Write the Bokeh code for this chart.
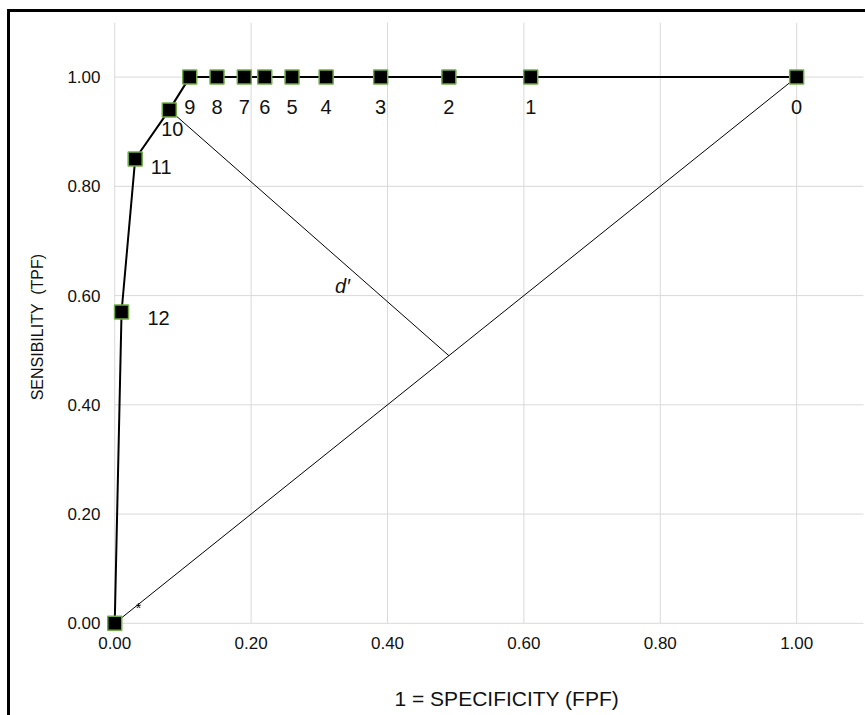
from bokeh.plotting import figure
from bokeh.layouts import column
from bokeh.models import ColumnDataSource, FixedTicker, PrintfTickFormatter, Label, Title
from bokeh.core.properties import value
from bokeh.embed import file_html
from bokeh.resources import INLINE

# ---- data ----
point_labels = ["", "12", "11", "10", "9", "8", "7", "6", "5", "4", "3", "2", "1", "0"]
fpf = [0.00, 0.01, 0.03, 0.08, 0.11, 0.15, 0.19, 0.22, 0.26, 0.31, 0.39, 0.49, 0.61, 1.00]
tpf = [0.00, 0.57, 0.85, 0.94, 1.00, 1.00, 1.00, 1.00, 1.00, 1.00, 1.00, 1.00, 1.00, 1.00]

# chance diagonal and d' perpendicular (from point 10 to the diagonal)
diag_x = [0.0, 1.0]
diag_y = [0.0, 1.0]
dprime_x = [0.08, 0.49]
dprime_y = [0.94, 0.49]

tick_values = [0.0, 0.2, 0.4, 0.6, 0.8, 1.0]
x_title = "1 = SPECIFICITY (FPF)"
y_title = "SENSIBILITY \u00a0(TPF)"

# annotation positions
dprime_label_pos = (0.334, 0.617)
star_pos = (0.035, 0.035)

# label offsets (screen px) per point
label_dx = [0, 37, 26, 3, 0, 0, 0, 0, 0, 0, 0, 0, 0, 0]
label_dy = [0, 6, 8, 19, 30, 30, 30, 30, 30, 30, 30, 30, 30, 30]

FONT = "Liberation Sans"
GREEN = "#70ad47"

p = figure(width=855, height=703,
           x_range=(-0.015, 1.098), y_range=(-0.015, 1.1),
           output_backend="svg", toolbar_location=None,
           min_border_left=94, min_border_right=2,
           min_border_top=10, min_border_bottom=84)
p.outline_line_color = None
p.xgrid.visible = False
p.ygrid.visible = False

# gridlines drawn from tick values
grid_top = 1.1
p.segment(x0=tick_values, y0=[0.0] * len(tick_values), x1=tick_values,
          y1=[grid_top] * len(tick_values), line_color="#d9d9d9", line_width=1)
p.segment(x0=[0.0] * len(tick_values), y0=tick_values, x1=[grid_top] * len(tick_values),
          y1=tick_values, line_color="#d9d9d9", line_width=1)

for ax in (p.xaxis[0], p.yaxis[0]):
    ax.ticker = FixedTicker(ticks=tick_values)
    ax.formatter = PrintfTickFormatter(format="%.2f")
    ax.axis_line_color = None
    ax.major_tick_line_color = None
    ax.minor_tick_line_color = None
    ax.major_tick_out = 0
    ax.major_tick_in = 0
    ax.major_label_text_font = FONT
    ax.major_label_text_font_size = "17px"
    ax.major_label_text_color = "#111111"

p.yaxis.major_label_standoff = 4
p.xaxis.major_label_standoff = 5
p.yaxis.axis_label = y_title
p.yaxis.axis_label_text_font = FONT
p.yaxis.axis_label_text_font_size = "16px"
p.yaxis.axis_label_text_font_style = "normal"
p.yaxis.axis_label_text_color = "#111111"
p.yaxis.axis_label_standoff = 18

# blank x-axis label used only as vertical spacing before the title below
p.xaxis.axis_label = "\u00a0"
p.xaxis.axis_label_text_font_size = "20px"
p.xaxis.axis_label_standoff = 8

p.add_layout(Title(text=x_title, align="left", offset=290, standoff=0,
                   text_font=FONT, text_font_size="21px", text_font_style="normal",
                   text_color="#111111"), "below")

# lines
p.line(diag_x, diag_y, line_color="black", line_width=1)
p.line(dprime_x, dprime_y, line_color="black", line_width=1)
p.line(fpf, tpf, line_color="black", line_width=2)
p.scatter(fpf, tpf, marker="square", size=14, fill_color="black",
          line_color=GREEN, line_width=1.5)

src = ColumnDataSource(dict(x=fpf, y=tpf, t=point_labels, dx=label_dx, dy=label_dy))
p.text(x="x", y="y", text="t", x_offset="dx", y_offset="dy", source=src,
       text_font=value(FONT), text_font_size="20px", text_color="#111111",
       text_align="center", text_baseline="middle")

p.text(x=[star_pos[0]], y=[star_pos[1]], text=["*"], y_offset=4,
       text_font=value(FONT), text_font_size="14px", text_color="black",
       text_align="center", text_baseline="middle")

p.add_layout(Label(x=dprime_label_pos[0], y=dprime_label_pos[1], text="d′",
                   text_font=FONT, text_font_size="20px", text_font_style="italic",
                   text_align="center", text_baseline="middle", text_color="#111111"))

page = column(p, styles={"border-top": "3px solid black", "border-left": "3px solid black",
                         "margin-left": "7px", "margin-top": "9px"})

open("out.html", "w").write(file_html(page, INLINE))
